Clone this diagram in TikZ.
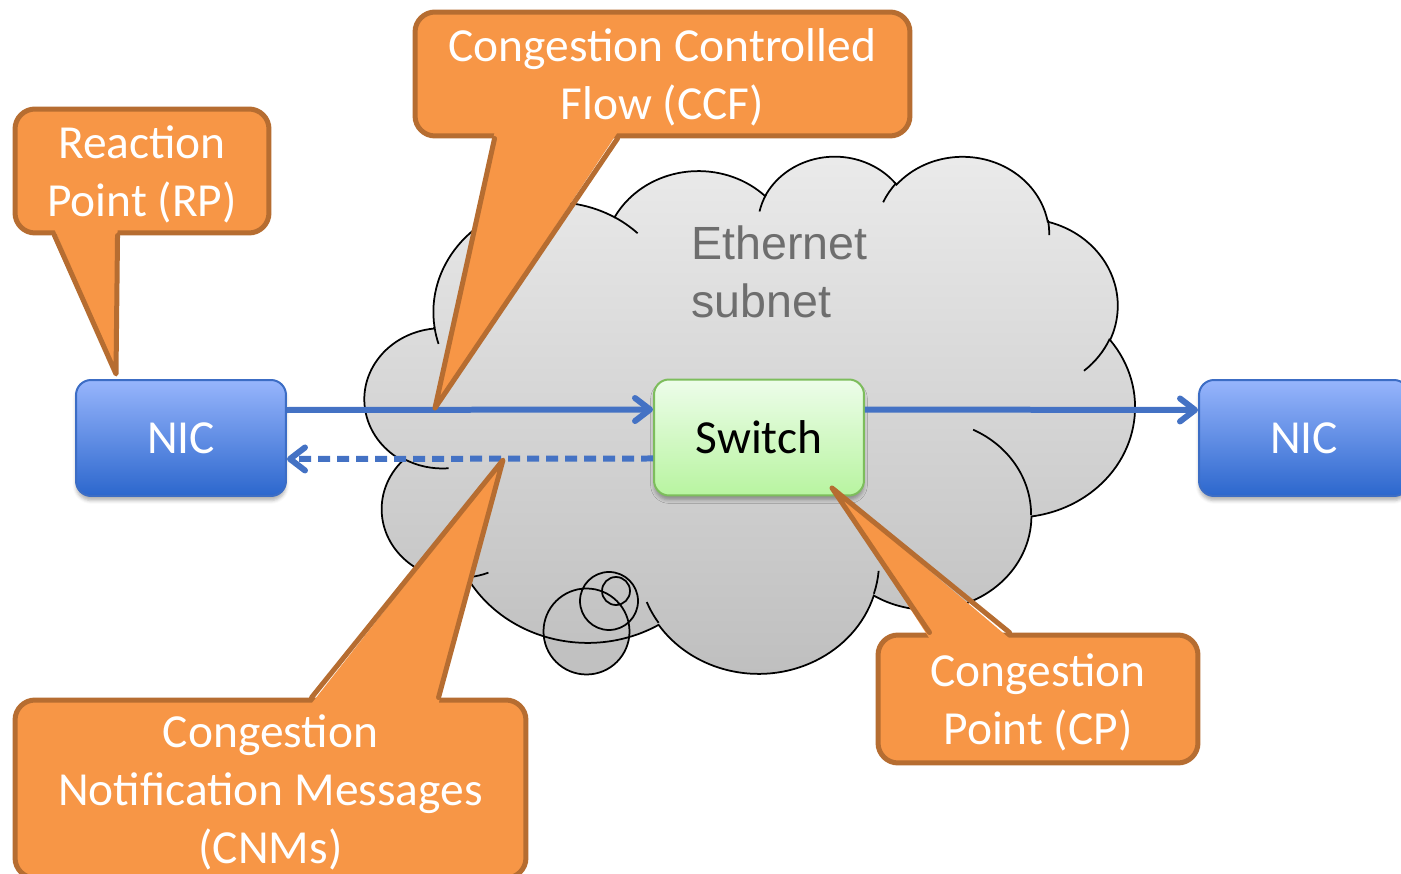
\documentclass[tikz,border=0pt]{standalone}
\usepackage{fontspec}
\setmainfont{Carlito}
\newfontfamily\arialfont{Liberation Sans}
\usetikzlibrary{arrows.meta,calc,shadows.blur}

\definecolor{calloutfill}{HTML}{F79646}
\definecolor{calloutline}{HTML}{B66D31}
\definecolor{flowblue}{HTML}{4472C4}
\definecolor{nictop}{HTML}{97B5FC}
\definecolor{nicbottom}{HTML}{2C67CD}
\definecolor{nicline}{HTML}{3C6DC5}
\definecolor{switchtop}{HTML}{EDFDEA}
\definecolor{switchbottom}{HTML}{B8F4A0}
\definecolor{switchline}{HTML}{7DBD5C}
\definecolor{cloudtop}{HTML}{EBEBEB}
\definecolor{cloudbottom}{HTML}{BEBEBE}
\definecolor{subnetgray}{HTML}{6E6E6E}

\begin{document}
\begin{tikzpicture}[x=0.02cm, y=-0.02cm, font=\fontsize{27}{33}\selectfont,
    box/.style={rounded corners=0.3cm, line width=0.04cm, minimum width=4.2cm, minimum height=2.32cm,
        blur shadow={shadow xshift=0cm, shadow yshift=-0.09cm, shadow opacity=30}},
    nic/.style={box, draw=nicline, top color=nictop, bottom color=nicbottom, text=white},
    switchbox/.style={box, draw=switchline, top color=switchtop, bottom color=switchbottom},
    calloutbox/.style={rounded corners=0.4cm, draw=calloutline, fill=calloutfill, line width=0.1cm,
        text=white, align=center, inner sep=0pt, text depth=0pt},
    calloutptr/.style={draw=calloutline, line width=0.1cm, line join=round, line cap=round},
    flow/.style={draw=flowblue, line width=0.12cm, -{Straight Barb[length=0.3cm, width=0.46cm, round]}},
    cloudunits/.style={shift={(365,155)}, x=0.035648cm, y=-0.023935cm},
    cloudline/.style={draw=black, line width=0.035cm}]
    \useasboundingbox (0,0) rectangle (1401,874);

    % cloud with its little bubbles
    \fill[cloudbottom!95!white] (586.5,631.5) circle[radius=43] (609,601) circle[radius=29] (616,591) circle[radius=14];
    \draw[cloudunits, cloudline, top color=cloudtop, bottom color=cloudbottom]
        (39.00,143.70) arc[start angle=-187.75, end angle=-59.63, x radius=67.53, y radius=91.90]
        arc[start angle=-152.02, end angle=-45.46, x radius=53.33, y radius=72.67]
        arc[start angle=-153.49, end angle=-37.33, x radius=43.65, y radius=59.45]
        arc[start angle=-139.70, end angle=-10.21, x radius=48.57, y radius=65.95]
        arc[start angle=-74.77, end angle=23.21, x radius=53.33, y radius=72.73]
        arc[start angle=-37.52, end angle=81.86, x radius=67.75, y radius=92.20]
        arc[start angle=0.46, end angle=121.98, x radius=57.85, y radius=78.67]
        arc[start angle=16.85, end angle=146.25, x radius=67.52, y radius=92.15]
        arc[start angle=58.98, end angle=150.19, x radius=77.20, y radius=105.43]
        arc[start angle=83.31, end angle=223.10, x radius=43.60, y radius=59.18]
        arc[start angle=120.36, end angle=264.11, x radius=43.45, y radius=59.45] -- cycle;
    \draw[cloudline] (586.5,631.5) circle[radius=43] (609,601) circle[radius=29] (616,591) circle[radius=14];
    \draw[cloudunits, cloudline]
        (46.93,261.77) arc[start angle=85.54, end angle=120.36, x radius=43.45, y radius=59.45]
        (69.28,348.99) arc[start angle=68.23, end angle=83.31, x radius=43.60, y radius=59.18]
        (164.78,390.90) arc[start angle=146.25, end angle=158.47, x radius=67.52, y radius=92.15]
        (288.27,347.51) arc[start angle=4.74, end angle=16.85, x radius=67.52, y radius=92.15]
        (341.29,229.54) arc[start angle=-64.03, end angle=0.46, x radius=57.85, y radius=78.67]
        (417.98,153.54) arc[start angle=23.21, end angle=49.64, x radius=53.33, y radius=72.73]
        (383.24,54.26) arc[start angle=-10.21, end angle=0.82, x radius=48.57, y radius=65.95]
        (290.78,39.52) arc[start angle=-156.30, end angle=-139.70, x radius=48.57, y radius=65.95]
        (221.41,47.20) arc[start angle=-167.72, end angle=-153.49, x radius=43.65, y radius=59.45]
        (140.00,51.92) arc[start angle=-59.63, end angle=-45.74, x radius=67.53, y radius=91.90]
        (41.27,157.89) arc[start angle=163.19, end angle=172.25, x radius=67.53, y radius=91.90];
    \node[font=\arialfont\fontsize{26.5}{33}\selectfont, text=subnetgray, align=left, inner sep=0pt,
        anchor=north west] (subnet) at (691,225) {Ethernet\\subnet};

    % end points and switch
    \node[nic] (nicl) at (181,438) {NIC};
    \node[switchbox] (sw) at (759,437.5) {Switch};
    \node[nic] (nicr) at (1304,438) {NIC};

    \draw[flow] ([yshift=0.56cm]nicl.east) -- ([yshift=0.56cm]sw.west);
    \draw[flow] ([yshift=0.56cm]sw.east) -- ([yshift=0.56cm]nicr.west);
    \draw[flow, dash pattern=on 0.24cm off 0.14cm] ([yshift=-0.42cm]sw.west) -- ([yshift=-0.42cm]nicl.east);

    % callouts
    \node[calloutbox, minimum width=5.08cm, minimum height=2.48cm] (rp) at (142,171) {Reaction\\Point (RP)};
    \node[calloutbox, minimum width=9.9cm, minimum height=2.48cm] (ccf) at (662.5,74) {Congestion Controlled\\Flow (CCF)};
    \node[calloutbox, minimum width=10.22cm, minimum height=3.56cm] (cnm) at (270.5,789) {Congestion\\Notification Messages\\(CNMs)};
    \node[calloutbox, minimum width=6.4cm, minimum height=2.56cm] (cp) at (1038,699) {Congestion\\Point (CP)};

    \coordinate (rp-tip) at (116,374);
    \coordinate (ccf-tip) at (435,408);
    \coordinate (cnm-tip) at (503,460);
    \coordinate (cp-tip) at (832,488);

    \foreach \callout/\corner/\xa/\xb/\dy in {rp/south west/42/105/-6, ccf/south west/82/205/-6,
                                             cnm/north west/299/426/6, cp/north west/54/134/6} {
        \path ($(\callout.\corner)+(\xa,0)$) coordinate (base a) ($(\callout.\corner)+(\xb,0)$) coordinate (base b);
        \fill[calloutfill] ($(base a)+(0,\dy)$) -- (\callout-tip) -- ($(base b)+(0,\dy)$) -- cycle;
        \draw[calloutptr] (base a) -- (\callout-tip) -- (base b);
    }
\end{tikzpicture}
\end{document}
